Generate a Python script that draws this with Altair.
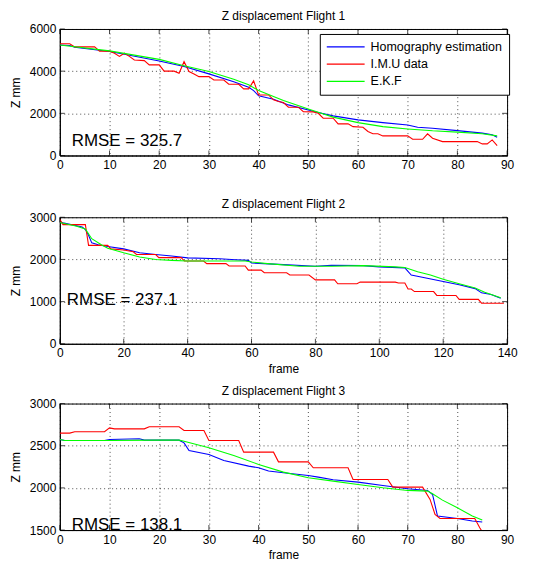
import altair as alt
import pandas as pd

SERIES = ["Homography estimation", "I.M.U data", "E.K.F"]
COLORS = ["#0000ff", "#ff0000", "#00ff00"]

# ---------------- Flight 1 ----------------
f1_hom_x = [0, 2, 3, 10, 13, 20, 25, 30, 35, 38, 39, 40, 43, 46, 50, 52, 55, 60, 65, 70, 72, 75, 80, 85, 87, 88]
f1_hom_y = [5240, 5220, 5130, 4930, 4800, 4480, 4220, 3870, 3500, 3240, 3080, 2830, 2670, 2400, 2160, 2040, 1880,
            1690, 1560, 1450, 1340, 1290, 1180, 1060, 980, 870]
f1_imu_x = [0, 2, 3, 7, 8, 10, 11, 12, 13, 14, 15, 17, 18, 20, 21, 23, 24, 25, 26, 27, 28, 30, 31, 33, 34, 36, 37,
            38, 39, 40, 42, 43, 44, 45, 46, 48, 49, 51, 52, 53, 55, 56, 58, 59, 61, 62, 63, 64, 65, 70, 71, 73, 74,
            75, 77, 84, 85, 86, 87, 88]
f1_imu_y = [5300, 5300, 5150, 5150, 4950, 4950, 4850, 4700, 4850, 4700, 4530, 4500, 4300, 4300, 4000, 4000, 3900,
            4450, 3980, 3870, 3740, 3740, 3580, 3580, 3380, 3380, 3160, 3160, 3540, 2870, 2870, 2640, 2560, 2510,
            2290, 2290, 2080, 2070, 2000, 1770, 1770, 1500, 1500, 1370, 1340, 1140, 1030, 1030, 930, 930, 770, 770,
            1030, 820, 660, 660, 550, 550, 740, 470]
f1_ekf_x = [0, 10, 20, 25, 30, 35, 38, 40, 45, 50, 52, 55, 60, 65, 70, 75, 80, 85, 88]
f1_ekf_y = [5240, 4960, 4560, 4260, 3980, 3620, 3350, 3080, 2610, 2210, 2050, 1820, 1560, 1370, 1260, 1170, 1110,
            1030, 930]

# ---------------- Flight 2 ----------------
f2_hom_x = [0, 1, 7, 8, 9, 10, 12, 15, 20, 25, 30, 35, 40, 50, 55, 59, 60, 70, 80, 85, 95, 100, 108, 110, 115, 120,
            125, 130, 132, 135, 138]
f2_hom_y = [2890, 2867, 2767, 2708, 2575, 2392, 2350, 2308, 2250, 2158, 2117, 2083, 2038, 2015, 1992, 1977, 1915,
            1877, 1838, 1862, 1854, 1823, 1800, 1630, 1554, 1477, 1400, 1308, 1208, 1170, 1077]
f2_imu_x = [0, 1, 8, 9, 15, 16, 20, 23, 24, 30, 31, 38, 39, 45, 46, 52, 53, 58, 59, 63, 64, 71, 72, 78, 80, 86, 87,
            93, 94, 105, 106, 108, 109, 110, 111, 117, 118, 124, 125, 131, 132, 139]
f2_imu_y = [2950, 2825, 2825, 2333, 2333, 2250, 2225, 2183, 2117, 2117, 2042, 2042, 1962, 1962, 1900, 1900, 1846,
            1846, 1746, 1746, 1685, 1685, 1630, 1630, 1515, 1515, 1423, 1423, 1462, 1462, 1440, 1440, 1300, 1300,
            1238, 1238, 1146, 1146, 1054, 1054, 962, 962]
f2_ekf_x = [0, 5, 8, 10, 13, 15, 20, 25, 30, 35, 40, 50, 58, 60, 65, 75, 85, 95, 105, 108, 112, 116, 120, 125, 130,
            133, 138]
f2_ekf_y = [2875, 2792, 2725, 2492, 2350, 2267, 2158, 2058, 2000, 1977, 1962, 1962, 1962, 1938, 1900, 1838, 1838,
            1854, 1823, 1808, 1708, 1630, 1530, 1423, 1323, 1223, 1092]

# ---------------- Flight 3 ----------------
f3_hom_x = [0, 1, 9, 10, 16, 17, 24, 25, 26, 30, 33, 38, 40, 42, 45, 50, 52, 55, 60, 65, 70, 74, 75, 76, 80, 83, 85]
f3_hom_y = [2574, 2562, 2562, 2574, 2582, 2566, 2566, 2534, 2443, 2396, 2325, 2258, 2238, 2200, 2179, 2147, 2128,
            2096, 2068, 2029, 1990, 1970, 1922, 1666, 1638, 1607, 1595]
f3_imu_x = [0, 2, 3, 9, 10, 11, 17, 18, 24, 25, 29, 30, 36, 37, 43, 44, 50, 51, 58, 59, 66, 67, 73, 74.5, 75.5, 76.5,
            83.5, 84.5, 85]
f3_imu_y = [2649, 2649, 2665, 2665, 2712, 2700, 2700, 2724, 2724, 2680, 2680, 2562, 2562, 2424, 2424, 2309, 2309,
            2238, 2238, 2100, 2100, 2009, 2009, 1863, 1686, 1638, 1638, 1528, 1480]
f3_ekf_x = [0, 1, 10, 20, 24, 25, 30, 35, 40, 45, 50, 55, 60, 65, 70, 74, 75, 77, 80, 83, 85]
f3_ekf_y = [2574, 2562, 2562, 2566, 2566, 2554, 2475, 2384, 2278, 2187, 2120, 2080, 2041, 2001, 1970, 1962, 1930,
            1855, 1764, 1666, 1618]

titles = ["Z displacement Flight 1", "Z displacement Flight 2", "Z displacement Flight 3"]
rmse = ["RMSE = 325.7", "RMSE = 237.1", "RMSE = 138.1"]
x_ticks = [list(range(0, 91, 10)), list(range(0, 141, 20)), list(range(0, 91, 10))]
y_ticks = [[0, 2000, 4000, 6000], [0, 1000, 2000, 3000], [1500, 2000, 2500, 3000]]
x_domains = [[0, 90], [0, 140], [0, 90]]
y_domains = [[0, 6000], [0, 3000], [1500, 3000]]
rmse_pos = [(2.4, 470), (2.2, 925), (2.4, 1506)]

FONT = "Liberation Sans"
W, H = 449, 127


def frame(xs, ys):
    rows = []
    for name, (x, y) in zip(SERIES, zip(xs, ys)):
        for a, b in zip(x, y):
            rows.append({"frame": a, "z": b, "series": name})
    return pd.DataFrame(rows)


datasets = [
    frame([f1_hom_x, f1_imu_x, f1_ekf_x], [f1_hom_y, f1_imu_y, f1_ekf_y]),
    frame([f2_hom_x, f2_imu_x, f2_ekf_x], [f2_hom_y, f2_imu_y, f2_ekf_y]),
    frame([f3_hom_x, f3_imu_x, f3_ekf_x], [f3_hom_y, f3_imu_y, f3_ekf_y]),
]

panels = []
for i in range(3):
    xs = alt.Scale(domain=x_domains[i], nice=False, zero=False)
    ys = alt.Scale(domain=y_domains[i], nice=False, zero=False)
    if i == 0:
        legend = alt.Legend(
            title=None, orient="none", legendX=261, legendY=5,
            symbolType="M-1,0H5.333", symbolSize=144, symbolStrokeWidth=1.2,
            labelFont=FONT, labelFontSize=12.5, labelColor="black", labelOffset=31,
            strokeColor="black", fillColor="white", padding=6, rowPadding=3.3,
        )
    else:
        legend = None
    x_axis = alt.Axis(values=x_ticks[i], format="d", labelFlush=False,
                      titleColor="black" if i > 0 else "transparent")
    y_axis = alt.Axis(values=y_ticks[i], format="d", labelFlush=False)
    lines = alt.Chart(datasets[i]).mark_line(strokeWidth=1.1, clip=True).encode(
        x=alt.X("frame:Q", scale=xs, title="frame", axis=x_axis),
        y=alt.Y("z:Q", scale=ys, title="Z mm", axis=y_axis),
        color=alt.Color("series:N", scale=alt.Scale(domain=SERIES, range=COLORS), legend=legend),
        detail="series:N",
    )
    # inward tick marks (MATLAB style) on all four sides
    xt_df = pd.DataFrame({"frame": x_ticks[i]})
    yt_df = pd.DataFrame({"z": y_ticks[i]})
    xt_bottom = alt.Chart(xt_df).mark_tick(color="black", size=5, thickness=1).encode(
        x=alt.X("frame:Q", scale=xs, title="frame"), y=alt.value(H - 2.5))
    xt_top = alt.Chart(xt_df).mark_tick(color="black", size=5, thickness=1).encode(
        x=alt.X("frame:Q", scale=xs, title="frame"), y=alt.value(2.5))
    yt_left = alt.Chart(yt_df).mark_tick(color="black", size=5, thickness=1).encode(
        y=alt.Y("z:Q", scale=ys, title="Z mm"), x=alt.value(2.5))
    yt_right = alt.Chart(yt_df).mark_tick(color="black", size=5, thickness=1).encode(
        y=alt.Y("z:Q", scale=ys, title="Z mm"), x=alt.value(W - 2.5))
    txt = alt.Chart(pd.DataFrame({"label": [rmse[i]]})).mark_text(
        align="left", baseline="alphabetic", font=FONT, fontSize=17, color="black"
    ).encode(text="label:N", x=alt.datum(rmse_pos[i][0]), y=alt.datum(rmse_pos[i][1]))
    panel = alt.layer(lines, xt_bottom, xt_top, yt_left, yt_right, txt).properties(
        width=W, height=H,
        title=alt.TitleParams(titles[i], fontSize=12, fontWeight="normal", font=FONT, color="black", offset=0),
    )
    panels.append(panel)

top_two = alt.vconcat(panels[0], panels[1], spacing=10).resolve_scale(
    color="independent", x="independent", y="independent").resolve_legend(color="independent")

chart = alt.vconcat(top_two, panels[2], spacing=8).resolve_scale(
    color="independent", x="independent", y="independent") \
    .resolve_legend(color="independent").properties(
    padding={"left": 0, "top": 0, "right": 12, "bottom": 0}
).configure_view(stroke="black", strokeWidth=1).configure_axis(
    labelFont=FONT, labelFontSize=12, labelColor="black", titleFont=FONT, titleFontSize=12,
    titleFontWeight="normal", titleColor="black", domainColor="black", domainWidth=1,
    ticks=False, labelPadding=4, grid=True, gridColor="black", gridDash=[1, 3], gridOpacity=0.7,
    gridWidth=1,
).configure_axisY(titlePadding=7).configure_axisX(titlePadding=5)

chart.save("out.html", embed_options={"renderer": "svg", "actions": False})
